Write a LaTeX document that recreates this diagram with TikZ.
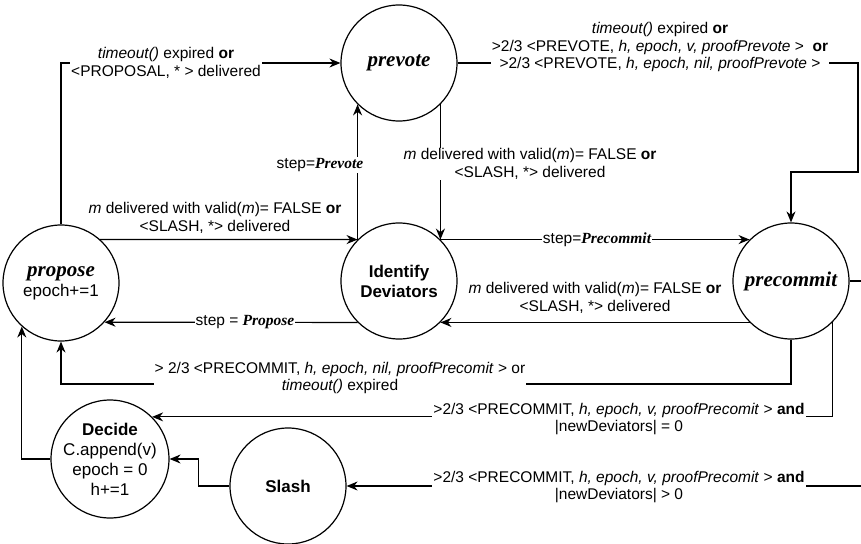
\documentclass[tikz,border=0pt]{standalone}
\usepackage{fontspec}
\setmainfont{Liberation Sans}
\newfontfamily\tnr{Liberation Serif}
\usetikzlibrary{arrows.meta}

\begin{document}
\begin{tikzpicture}[x=1pt,y=-1pt,
    state/.style={circle,draw,line width=1.2pt,minimum size=116pt,inner sep=0pt,align=center,font=\fontsize{17}{20}\selectfont},
    lbl/.style={fill=white,inner sep=1pt,align=center,font=\fontsize{15.5}{17.5}\selectfont},
    flow/.style={line width=1.2pt,-{Stealth[length=11pt,width=9pt]}}]
    \useasboundingbox (0,0) rectangle (861,543);
    % states
    \node[state] (pr) at (61,283) {{\tnr\bfseries\itshape\fontsize{21}{22}\selectfont propose}\\epoch+=1};
    \node[state] (pv) at (399,63) {\tnr\bfseries\itshape\fontsize{21}{22}\selectfont prevote};
    \node[state] (id) at (399,281) {\bfseries Identify\\\bfseries Deviators};
    \node[state] (pc) at (791,281) {\tnr\bfseries\itshape\fontsize{21}{22}\selectfont precommit};
    \node[state] (dc) at (110,459) {\bfseries Decide\\C.append(v)\\epoch = 0\\h+=1};
    \node[state] (sl) at (288,486) {\bfseries Slash};
    \coordinate (low) at (0,384);
    \coordinate (rim) at (866,0);
    \coordinate (turn) at (858,172);
    % connectors
    \draw[flow] (pr.north) -- (pr.north |- pv.west) -- (pv.west);
    \draw[flow] (pv.east) -- (pv.east -| turn) -- (turn) -- (pc.north |- turn) -- (pc.north);
    \draw[flow] (id.135) -- (pv.225);
    \draw[flow] (pv.-45) -- (id.45);
    \draw[flow] (pr.48) -- (id.135);
    \draw[flow] (id.45) -- (pc.135);
    \draw[flow] (pc.225) -- (id.-45);
    \draw[flow] (id.225) -- (pr.-42);
    \draw[flow] (pc.south) -- (pc.south |- low) -- (pr.south |- low) -- (pr.south);
    \draw[flow] (dc.west) -| (pr.228);
    \draw[flow] (pc.-45) |- (dc.45);
    \draw[flow] (pc.east) -- (pc.east -| rim) -- (rim |- sl.east) -- (sl.east);
    \draw[flow] (sl.west) -- ++(-31,0) |- (dc.east);
    % labels
    \node[lbl] (l1) at (166,63) {\textit{timeout()} expired \textbf{or}\\<PROPOSAL, * > delivered};
    \node[lbl] (l2) at (660,47) {\textit{timeout()} expired \textbf{or}\\>2/3 <PREVOTE, \textit{h, epoch, v, proofPrevote} >\ \ \textbf{or}\\>2/3 <PREVOTE, \textit{h, epoch, nil, proofPrevote} >};
    \node[lbl] (l3) at (320,165) {step={\tnr\bfseries\itshape Prevote}};
    \node[lbl] (l4) at (530,164) {\textit{m} delivered with valid(\textit{m})= FALSE \textbf{or}\\<SLASH, *> delivered};
    \node[lbl,fill=none] (l5) at (215,218) {\textit{m} delivered with valid(\textit{m})= FALSE \textbf{or}\\<SLASH, *> delivered};
    \node[lbl] (l6) at (597,240) {step={\tnr\bfseries\itshape Precommit}};
    \node[lbl,fill=none] (l7) at (595,298) {\textit{m} delivered with valid(\textit{m})= FALSE \textbf{or}\\<SLASH, *> delivered};
    \node[lbl] (l8) at (245,322) {step = {\tnr\bfseries\itshape Propose}};
    \node[lbl] (l9) at (340,378) {> 2/3 <PRECOMMIT, \textit{h, epoch, nil, proofPrecomit} > or\\\textit{timeout()} expired};
    \node[lbl] (l10) at (619,419) {>2/3 <PRECOMMIT, \textit{h, epoch, v, proofPrecomit} > \textbf{and}\\|newDeviators| = 0};
    \node[lbl] (l11) at (619,487) {>2/3 <PRECOMMIT, \textit{h, epoch, v, proofPrecomit} > \textbf{and}\\|newDeviators| > 0};
\end{tikzpicture}
\end{document}
